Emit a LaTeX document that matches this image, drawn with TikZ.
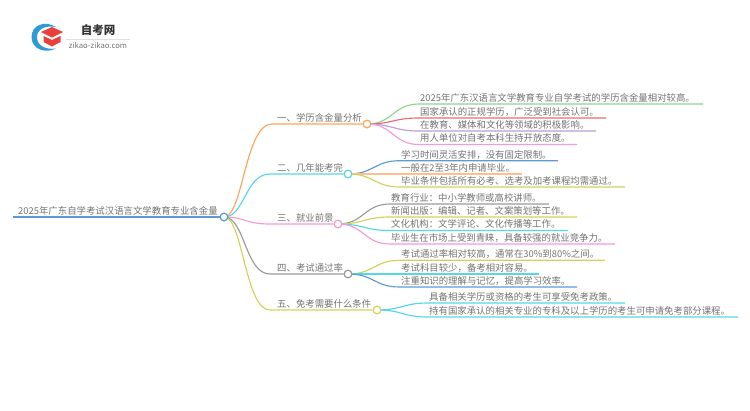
\documentclass[tikz,border=0pt]{standalone}
\usepackage{fontspec}
\setmainfont{Noto Sans CJK SC}[Scale=1]
\usetikzlibrary{calc}
\definecolor{rootc}{HTML}{5B9BD5}
\definecolor{orangec}{HTML}{FFA45C}
\definecolor{cyanc}{HTML}{55D7E8}
\definecolor{pinkc}{HTML}{F59AD8}
\definecolor{grayc}{HTML}{9A9A9A}
\definecolor{yellowc}{HTML}{D2D25A}
\definecolor{greenc}{HTML}{8CD68C}
\definecolor{redc}{HTML}{EE6A70}
\definecolor{purplec}{HTML}{BC9BDE}
\definecolor{lorange}{HTML}{FFBE8C}
\definecolor{txt}{HTML}{737373}
\definecolor{logoblue}{HTML}{2E9BD6}
\definecolor{logored}{HTML}{E8413C}
\tikzset{
  x=1pt,y=-1pt,
  lab/.style={anchor=base west,inner sep=0pt,text=txt,font=\fontsize{9.4}{10}\selectfont},
  dot/.style={circle,draw=#1,fill=white,line width=1.1pt,minimum size=7.5pt,inner sep=0pt},
  wire/.style={draw=#1,line width=1.15pt}
}
\newcommand{\leaf}[7]{% name, colour, parent, xstart, y, xend, text
  \node[lab] (#1t) at (#4+1,#5-2.6) {#7};
  \coordinate (#1a) at (#4,#5);
  \coordinate (#1b) at (#6,#5);
  \coordinate (#1m) at ($(#3.center)!0.5!(#1a)$);
  \draw[wire=#2] (#3.center) .. controls (#1m |- #3.center) and (#1m |- #1a) .. (#1a) -- (#1b);
}
\begin{document}
\begin{tikzpicture}
\useasboundingbox (0,0) rectangle (750,410);
% logo
\fill[logoblue] (56,27) .. controls (45,20) and (31.5,25) .. (31.5,37) .. controls (31.5,49) and (45,54) .. (56,48.5) .. controls (46,50) and (37,46) .. (37,37) .. controls (37,29) and (46,25) .. cycle;
\fill[logored] (52,27) -- (63,32) -- (52,37.5) -- (41,32) -- cycle;
\fill[logored] (43.5,36) -- (52,40) -- (60.5,36) -- (60.5,42) -- (52,46.5) -- (43.5,42) -- cycle;
\node[inner sep=0pt,text=black!80,font=\bfseries\fontsize{11.5}{12}\selectfont] (logot) at (98,30.5) {自考网};
\draw[black!12,line width=.6pt] (66,39.3) -- (130,39.3);
\node[inner sep=0pt,text=black!55,font=\fontsize{7.7}{8}\selectfont] (logos) at (98,45) {zikao-zikao.com};
% root
\coordinate (r0) at (13,217);
\node[dot=rootc] (root) at (224,217) {};
\node[lab] (roott) at (18,214.4) {2025年广东自学考试汉语言文学教育专业含金量};
% branches
\foreach \n/\c/\y/\cx/\xs/\tx/\t in {
  b1/orangec/124/367/272/277/一、学历含金量分析,
  b2/cyanc/174/348/270/277/二、几年能考完,
  b3/pinkc/224/338/270/277/三、就业前景,
  b4/grayc/274/348/270/277/四、考试通过率,
  b5/yellowc/310/377/270/277/五、免考需要什么条件}{
  \node[lab] (\n t) at (\tx,\y-2.6) {\t};
  \coordinate (\n s) at (\xs,\y);
  \node[dot=\c] (\n) at (\cx,\y) {};
}
\draw[wire=rootc,line width=1.5pt] (r0) -- (root.west);
\draw[wire=orangec] (root.center) .. controls (243,217) and (245,124) .. (b1s) -- (b1.west);
\draw[wire=cyanc] (root.center) .. controls (245,217) and (245,174) .. (b2s) -- (b2.west);
\draw[wire=pinkc] (root.center) .. controls (245,217) and (245,224) .. (b3s) -- (b3.west);
\draw[wire=grayc] (root.center) .. controls (245,217) and (245,274) .. (b4s) -- (b4.west);
\draw[wire=yellowc] (root.center) .. controls (243,217) and (245,310) .. (b5s) -- (b5.west);
\node[dot=rootc] at (root) {};
\leaf{a}{greenc}{b1}{419}{104}{703}{2025年广东汉语言文学教育专业自学考试的学历含金量相对较高。}
\leaf{c}{redc}{b1}{419}{118}{606}{国家承认的正规学历，广泛受到社会认可。}
\leaf{d}{purplec}{b1}{419}{131}{596}{在教育、媒体和文化等领域的积极影响。}
\leaf{e}{pinkc}{b1}{419}{144.5}{577}{用人单位对自考本科生持开放态度。}
\leaf{f}{rootc}{b2}{400}{160.7}{558}{学习时间灵活安排，没有固定限制。}
\leaf{g}{lorange}{b2}{400}{174}{522}{一般在2至3年内申请毕业。}
\leaf{h}{yellowc}{b2}{400}{187}{625}{毕业条件包括所有必考、选考及加考课程均需通过。}
\leaf{i}{grayc}{b3}{390}{204}{549}{教育行业：中小学教师或高校讲师。}
\leaf{j}{yellowc}{b3}{390}{217}{577}{新闻出版：编辑、记者、文案策划等工作。}
\leaf{k}{cyanc}{b3}{390}{230.5}{568}{文化机构：文学评论、文化传播等工作。}
\leaf{l}{pinkc}{b3}{390}{244}{615}{毕业生在市场上受到青睐，具备较强的就业竞争力。}
\leaf{m}{yellowc}{b4}{400}{260.3}{605}{考试通过率相对较高，通常在30\%到80\%之间。}
\leaf{n}{cyanc}{b4}{400}{274}{539}{考试科目较少，备考相对容易。}
\leaf{o}{rootc}{b4}{400}{287}{577}{注重知识的理解与记忆，提高学习效率。}
\leaf{p}{cyanc}{b5}{428}{303}{625}{具备相关学历或资格的考生可享受免考政策。}
\leaf{q}{cyanc}{b5}{428}{317}{738}{持有国家承认的相关专业的专科及以上学历的考生可申请免考部分课程。}
\node[dot=orangec] at (b1) {};
\node[dot=cyanc] at (b2) {};
\node[dot=pinkc] at (b3) {};
\node[dot=grayc] at (b4) {};
\node[dot=yellowc] at (b5) {};
\end{tikzpicture}
\end{document}
